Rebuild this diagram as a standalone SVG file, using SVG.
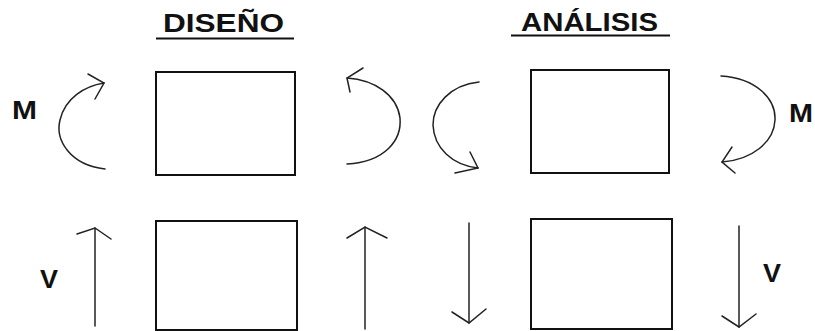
<svg xmlns="http://www.w3.org/2000/svg" width="815" height="331" viewBox="0 0 815 331">
<style>
.t{font-family:"Liberation Sans",Arial,sans-serif;font-weight:bold;font-size:26px;fill:#111}
.box{fill:#fff;stroke:#111;stroke-width:2}
.c{fill:none;stroke:#222;stroke-width:1.5;stroke-linecap:round}
.u{stroke:#111;stroke-width:2}
</style>
<rect width="815" height="331" fill="#fff"/>
<g id="title-diseno">
<text class="t" x="163" y="32" textLength="121" lengthAdjust="spacingAndGlyphs">DISEÑO</text>
<line class="u" x1="156" y1="38.5" x2="294" y2="38.5"/>
</g>
<g id="title-analisis">
<text class="t" x="521" y="31" textLength="137" lengthAdjust="spacingAndGlyphs">ANÁLISIS</text>
<line class="u" x1="511" y1="35.5" x2="670" y2="35.5"/>
</g>
<g id="box-diseno-m"><rect class="box" x="156" y="72" width="139" height="103"/></g>
<g id="box-analisis-m"><rect class="box" x="531" y="70" width="138" height="103"/></g>
<g id="box-diseno-v"><rect class="box" x="156" y="221" width="141" height="109"/></g>
<g id="box-analisis-v"><rect class="box" x="531" y="219" width="141" height="110"/></g>
<g id="label-m-left"><text class="t" x="12" y="119" textLength="25" lengthAdjust="spacingAndGlyphs">M</text></g>
<g id="label-m-right"><text class="t" x="789" y="122" textLength="24" lengthAdjust="spacingAndGlyphs">M</text></g>
<g id="label-v-left"><text class="t" x="40" y="288" textLength="18" lengthAdjust="spacingAndGlyphs">V</text></g>
<g id="label-v-right"><text class="t" x="763" y="282" textLength="18" lengthAdjust="spacingAndGlyphs">V</text></g>
<g id="connectors">
<path class="c" d="M105,169 C70,165 55,140 60,120 C65,98 85,86 104,83"/>
<path class="c" d="M88,74 L104,83 L95,99"/>
<path class="c" d="M347,164 C385,162 402,140 400,118 C397,95 375,80 347,78"/>
<path class="c" d="M363,68 L347,78 L350,92"/>
<path class="c" d="M479,82 C450,85 433,105 433,125 C434,148 452,165 478,168"/>
<path class="c" d="M470,152 L478,168 L455,173"/>
<path class="c" d="M721,76 C755,78 776,98 775,120 C774,142 752,160 722,162"/>
<path class="c" d="M732,147 L722,162 L735,173"/>
<path class="c" d="M95,326 L95,228"/>
<path class="c" d="M77,234 L95,228 L111,239"/>
<path class="c" d="M365,329 L365,227"/>
<path class="c" d="M347,238 L365,227 L387,238"/>
<path class="c" d="M469,223 L469,323"/>
<path class="c" d="M452,312 L469,323 L486,309"/>
<path class="c" d="M739,226 L739,327"/>
<path class="c" d="M722,316 L739,327 L756,314"/>
</g>
</svg>
